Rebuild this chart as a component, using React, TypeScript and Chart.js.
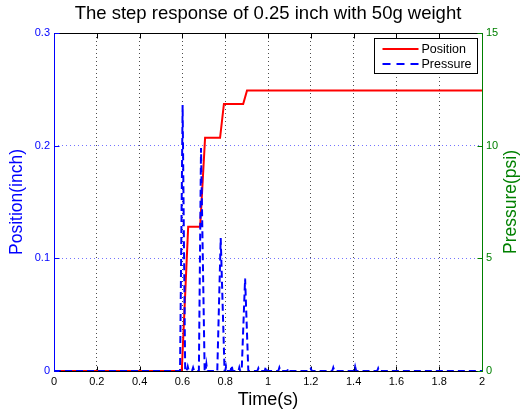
import { useEffect, useRef } from "react";
import { Chart, registerables } from "chart.js";

Chart.register(...registerables);

const chartTitle = "The step response of 0.25 inch with 50g weight";
const xTitle = "Time(s)";
const leftTitle = "Position(inch)";
const rightTitle = "Pressure(psi)";
const seriesNames = ["Position", "Pressure"];

const positionTime = [0, 0.597, 0.627, 0.683, 0.706, 0.776, 0.794, 0.884, 0.902, 2];
const positionValue = [0, 0, 0.128, 0.128, 0.207, 0.207, 0.237, 0.237, 0.249, 0.249];

const pressureTime = [
  0, 0.589, 0.601, 0.613,
  0.62, 0.625, 0.63,
  0.645, 0.65, 0.655,
  0.677, 0.687, 0.704,
  0.708, 0.712, 0.716,
  0.763, 0.779, 0.797,
  0.8, 0.804, 0.808,
  0.825, 0.83, 0.835,
  0.862, 0.866, 0.87,
  0.877, 0.893, 0.908,
  0.95, 0.955, 0.96,
  0.985, 0.99, 0.995,
  1.048, 1.053, 1.058,
  1.09, 1.095, 1.1,
  1.195, 1.2, 1.205,
  1.3, 1.305, 1.31,
  1.402, 1.407, 1.412,
  1.51, 1.515, 1.52,
  2,
];
const pressureValue = [
  0, 0, 11.8, 0,
  0, 0.2, 0,
  0, 0.15, 0,
  0, 9.9, 0,
  0, 0.3, 0,
  0, 5.9, 0,
  0, 0.2, 0,
  0, 0.25, 0,
  0, 0.15, 0,
  0, 4.1, 0,
  0, 0.12, 0,
  0, 0.2, 0,
  0, 0.15, 0,
  0, 0.12, 0,
  0, 0.1, 0,
  0, 0.15, 0,
  0, 0.2, 0,
  0, 0.12, 0,
  0,
];

const xTicks = [0, 0.2, 0.4, 0.6, 0.8, 1, 1.2, 1.4, 1.6, 1.8, 2];
const leftTicks = [0, 0.1, 0.2, 0.3];
const rightTicks = [0, 5, 10, 15];

const BLUE = "#0000ff";
const GREEN = "#008000";
const RED = "#ff0000";
const FONT = "'Liberation Sans', Arial, sans-serif";

const framePlugin = {
  id: "frame",
  beforeDatasetsDraw(chart: any) {
    const { ctx, chartArea, scales } = chart;
    const { left, right, top, bottom } = chartArea;
    const L = Math.round(left) + 0.5;
    const R = Math.round(right) + 0.5;
    const T = Math.round(top) + 0.5;
    const B = Math.round(bottom) + 0.5;
    const tl = 5;
    ctx.save();
    ctx.lineWidth = 1;
    ctx.setLineDash([]);
    ctx.strokeStyle = "#000";
    ctx.beginPath();
    ctx.moveTo(L, T);
    ctx.lineTo(R, T);
    ctx.moveTo(L, B);
    ctx.lineTo(R, B);
    xTicks.forEach((v) => {
      const px = Math.round(scales.x.getPixelForValue(v)) + 0.5;
      ctx.moveTo(px, B);
      ctx.lineTo(px, B - tl);
      ctx.moveTo(px, T);
      ctx.lineTo(px, T + tl);
    });
    ctx.stroke();
    ctx.strokeStyle = BLUE;
    ctx.beginPath();
    ctx.moveTo(L, T);
    ctx.lineTo(L, B);
    leftTicks.forEach((v) => {
      const py = Math.round(scales.y.getPixelForValue(v)) + 0.5;
      ctx.moveTo(L, py);
      ctx.lineTo(L + tl, py);
    });
    ctx.stroke();
    ctx.strokeStyle = GREEN;
    ctx.beginPath();
    ctx.moveTo(R, T);
    ctx.lineTo(R, B);
    rightTicks.forEach((v) => {
      const py = Math.round(scales.y1.getPixelForValue(v)) + 0.5;
      ctx.moveTo(R, py);
      ctx.lineTo(R - tl, py);
    });
    ctx.stroke();
    ctx.restore();
  },
  afterDraw(chart: any) {
    const { ctx, chartArea } = chart;
    ctx.save();
    ctx.fillStyle = GREEN;
    ctx.font = `17.5px ${FONT}`;
    ctx.textAlign = "center";
    ctx.textBaseline = "middle";
    ctx.translate(chart.width - 12.5, (chartArea.top + chartArea.bottom) / 2);
    ctx.rotate(-Math.PI / 2);
    ctx.fillText(rightTitle, 0, 0);
    ctx.restore();

    ctx.save();
    const bx = Math.round(chartArea.right) - 107.5;
    const by = Math.round(chartArea.top) + 5.5;
    const bw = 103;
    const bh = 35;
    ctx.fillStyle = "#fff";
    ctx.fillRect(bx, by, bw, bh);
    ctx.strokeStyle = "#000";
    ctx.lineWidth = 1;
    ctx.setLineDash([]);
    ctx.strokeRect(bx, by, bw, bh);
    const rows = [
      { name: seriesNames[0], color: RED, dash: [] as number[] },
      { name: seriesNames[1], color: BLUE, dash: [8, 6] },
    ];
    rows.forEach((r, i) => {
      const y = by + 10.5 + i * 15;
      ctx.strokeStyle = r.color;
      ctx.lineWidth = 2;
      ctx.setLineDash(r.dash);
      ctx.beginPath();
      ctx.moveTo(bx + 8, y);
      ctx.lineTo(bx + 44, y);
      ctx.stroke();
      ctx.setLineDash([]);
      ctx.fillStyle = "#000";
      ctx.font = `12.5px ${FONT}`;
      ctx.textAlign = "left";
      ctx.textBaseline = "middle";
      ctx.fillText(r.name, bx + 47, y + 0.5);
    });
    ctx.restore();
  },
};

export default function App() {
  const canvasRef = useRef<HTMLCanvasElement | null>(null);

  useEffect(() => {
    const canvas = canvasRef.current;
    if (!canvas) return;
    Chart.defaults.font.family = FONT;
    const chart = new Chart(canvas, {
      type: "line",
      data: {
        datasets: [
          {
            label: seriesNames[0],
            data: positionTime.map((t, i) => ({ x: t, y: positionValue[i] })),
            borderColor: RED,
            backgroundColor: RED,
            borderWidth: 2,
            pointRadius: 0,
            tension: 0,
            yAxisID: "y",
            order: 2,
          },
          {
            label: seriesNames[1],
            data: pressureTime.map((t, i) => ({ x: t, y: pressureValue[i] })),
            borderColor: BLUE,
            backgroundColor: BLUE,
            borderWidth: 2,
            borderDash: [7, 4],
            pointRadius: 0,
            tension: 0,
            yAxisID: "y1",
            order: 1,
          },
        ],
      },
      options: {
        responsive: false,
        animation: false,
        devicePixelRatio: 1,
        layout: { padding: 0 },
        plugins: {
          legend: { display: false },
          tooltip: { enabled: false },
          title: {
            display: true,
            fullSize: false,
            text: chartTitle,
            color: "#000",
            font: { size: 18.5, weight: "normal", family: FONT },
            padding: { top: 3, bottom: 7.8 },
          },
        },
        scales: {
          x: {
            type: "linear",
            min: 0,
            max: 2,
            afterFit: (s: any) => {
              s.height = 42;
            },
            afterBuildTicks: (s: any) => {
              s.ticks = xTicks.map((v) => ({ value: v }));
            },
            ticks: {
              color: "#000",
              font: { size: 11 },
              padding: 4,
              autoSkip: false,
              maxRotation: 0,
              callback: (v: any) => String(Number(v)),
            },
            grid: {
              display: true,
              drawTicks: false,
              color: "rgba(0,0,0,0.7)",
              lineWidth: 1,
            },
            border: { display: false, dash: [1, 3] },
            title: {
              display: true,
              text: xTitle,
              color: "#000",
              font: { size: 18 },
              padding: { top: 0, bottom: 2.2 },
            },
          },
          y: {
            type: "linear",
            position: "left",
            min: 0,
            max: 0.3,
            afterFit: (s: any) => {
              s.width = 54;
            },
            afterBuildTicks: (s: any) => {
              s.ticks = leftTicks.map((v) => ({ value: v }));
            },
            ticks: {
              color: BLUE,
              font: { size: 11 },
              padding: 4,
              callback: (v: any) => String(Number(v)),
            },
            grid: {
              display: true,
              drawTicks: false,
              color: "rgba(0,0,255,0.55)",
              lineWidth: 1,
            },
            border: { display: false, dash: [1, 3] },
            title: {
              display: true,
              text: leftTitle,
              color: BLUE,
              font: { size: 17.5 },
              padding: { top: 6.5, bottom: 0 },
            },
          },
          y1: {
            type: "linear",
            position: "right",
            min: 0,
            max: 15,
            afterFit: (s: any) => {
              s.width = 42;
            },
            afterBuildTicks: (s: any) => {
              s.ticks = rightTicks.map((v) => ({ value: v }));
            },
            ticks: {
              color: GREEN,
              font: { size: 11 },
              padding: 4,
              callback: (v: any) => String(Number(v)),
            },
            grid: { display: false, drawTicks: false },
            border: { display: false },
            title: { display: false },
          },
        },
      },
      plugins: [framePlugin],
    } as any);
    return () => chart.destroy();
  }, []);

  return (
    <div style={{ position: "absolute", left: 0, top: 0, width: 524, height: 413, background: "#fff" }}>
      <canvas ref={canvasRef} width={524} height={413} style={{ display: "block" }} />
    </div>
  );
}
